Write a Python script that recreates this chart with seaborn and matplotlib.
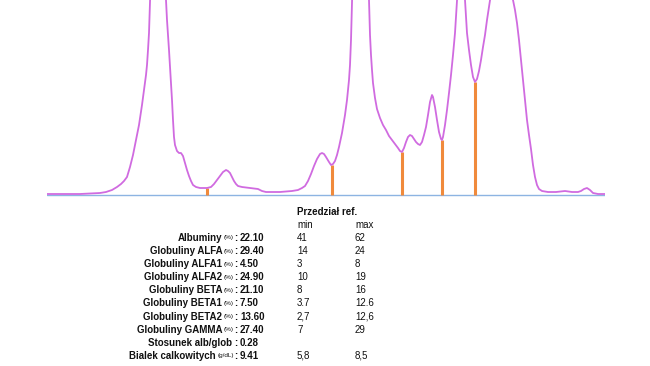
import matplotlib
matplotlib.use("Agg")
import matplotlib.pyplot as plt
import seaborn as sns
import numpy as np

# densitogram trace, position along the strip vs. intensity
position = [47, 60, 80, 100, 106, 112, 117, 121, 124, 127, 130, 133, 136, 139, 142, 144,
            146, 147, 148, 149, 150, 154, 158, 162, 166, 167, 168, 169, 170, 171, 172, 173,
            174, 175, 177, 179, 181, 183, 185, 187, 189, 191, 193, 196, 200, 207, 211, 214,
            217, 220, 223, 226, 228, 230, 232, 234, 236, 238, 242, 250, 258, 262, 266, 280,
            292, 298, 302, 305, 308, 311, 314, 317, 320, 322, 324, 326, 329, 331, 333, 335,
            337, 339, 342, 345, 347, 349, 350, 351, 352, 356, 360, 364, 369, 370, 371, 372,
            373, 375, 377, 380, 383, 386, 389, 392, 395, 398, 400, 402, 404, 406, 408, 410,
            412, 414, 416, 418, 420, 422, 424, 426, 428, 430, 432, 433, 435, 437, 439, 441,
            442, 443, 445, 447, 449, 451, 453, 455, 457, 461, 465, 466, 467, 469, 471, 473,
            475, 477, 479, 481, 483, 485, 487, 490, 500, 513, 515, 517, 519, 521, 523, 525,
            527, 529, 531, 533, 535, 537, 539, 542, 548, 556, 565, 572, 578, 581, 584, 587,
            590, 593, 598, 605]
intensity = [1, 1, 1, 2, 3, 5, 8, 11, 14, 18, 28, 40, 55, 70, 90, 105,
             120, 130, 145, 162, 195, 235, 245, 235, 195, 175, 160, 145, 128, 110, 95, 75,
             58, 50, 44, 42, 42, 39, 32, 25, 19, 14, 10, 8, 7, 7, 8, 11,
             15, 19, 23, 25, 24, 22, 18, 14, 11, 9, 8, 7, 6, 4, 3, 3,
             4, 5, 7, 9, 14, 21, 29, 36, 41, 42, 41, 38, 33, 30, 31, 34,
             40, 48, 62, 80, 95, 115, 130, 155, 195, 235, 245, 235, 195, 160, 140, 125,
             112, 97, 86, 77, 70, 65, 59, 55, 51, 47, 44, 43, 47, 53, 58, 60,
             59, 56, 53, 51, 50, 53, 60, 68, 80, 93, 100, 98, 88, 75, 63, 56,
             55, 58, 70, 85, 102, 120, 140, 162, 195, 235, 195, 178, 162, 145, 130, 118,
             113, 116, 124, 135, 148, 160, 175, 195, 245, 195, 185, 172, 155, 135, 115, 95,
             75, 60, 46, 30, 18, 10, 6, 4, 3, 3, 4, 3, 3, 4, 6, 7,
             5, 2, 1, 1]

# fraction boundaries
boundaries = [207, 332, 402, 442, 475]

# results table
labels = ["Albuminy", "Globuliny ALFA", "Globuliny ALFA1", "Globuliny ALFA2",
          "Globuliny BETA", "Globuliny BETA1", "Globuliny BETA2", "Globuliny GAMMA",
          "Stosunek alb/glob", "Bialek calkowitych"]
units = ["(%)", "(%)", "(%)", "(%)", "(%)", "(%)", "(%)", "(%)", "", "(g/dL)"]
values = ["22.10", "29.40", "4.50", "24.90", "21.10", "7.50", "13.60", "27.40", "0.28", "9.41"]
ref_min = ["41", "14", "3", "10", "8", "3.7", "2,7", "7", "", "5,8"]
ref_max = ["62", "24", "8", "19", "16", "12.6", "12,6", "29", "", "8,5"]

W, H = 650, 366
sns.set_theme(style="white")
plt.rcParams['font.family'] = ['Liberation Sans', 'DejaVu Sans']

fig = plt.figure(figsize=(W / 100, H / 100), dpi=100)
ax = fig.add_axes([47 / W, 1 - 197 / H, (605 - 47) / W, 197 / H])

ax.axhline(0, color='#8db4e2', lw=1, zorder=1)
sns.lineplot(x=position, y=intensity, ax=ax, color='#d06be0', lw=1.3,
             sort=False, estimator=None, zorder=3)
tops = np.interp(boundaries, position, intensity)
ax.vlines(boundaries, 0, tops, color='#f08a3c', lw=2.2, zorder=2)

ax.set_xlim(47, 605)
ax.set_ylim(-2, 195)
ax.set_xticks([])
ax.set_yticks([])
ax.set_xlabel('')
ax.set_ylabel('')
sns.despine(ax=ax, left=True, bottom=True)

fs = 7
txt_color = '#111111'


def fx(x):
    return x / W


def fy(y):
    return 1 - y / H


fig.canvas.draw()
renderer = fig.canvas.get_renderer()

fig.text(fx(297), fy(212), "Przedział ref.", fontsize=fs, fontweight='bold',
         va='center', color=txt_color)
fig.text(fx(297), fy(225), "min", fontsize=fs, va='center', color=txt_color)
fig.text(fx(355), fy(225), "max", fontsize=fs, va='center', color=txt_color)

colon_x = 237
row0, step = 238, 13.1
for i, lab in enumerate(labels):
    y = row0 + i * step
    # build the label right to left so that the colon ends at colon_x
    x = colon_x
    parts = [(lab, fs, 'bold', 1.5), (units[i], 4.6, 'normal', 0), (":", fs, 'bold', 0)]
    for s, size, weight, gap in reversed(parts):
        if not s:
            continue
        x -= gap
        t = fig.text(fx(x), fy(y), s, fontsize=size, fontweight=weight,
                     ha='right', va='center', color=txt_color)
        x -= t.get_window_extent(renderer=renderer).width
    fig.text(fx(colon_x + 3), fy(y), values[i], fontsize=fs, fontweight='bold',
             va='center', color=txt_color)
    fig.text(fx(297), fy(y), ref_min[i], fontsize=fs, va='center', color=txt_color)
    fig.text(fx(355), fy(y), ref_max[i], fontsize=fs, va='center', color=txt_color)

fig.savefig('out.png', dpi=100)
